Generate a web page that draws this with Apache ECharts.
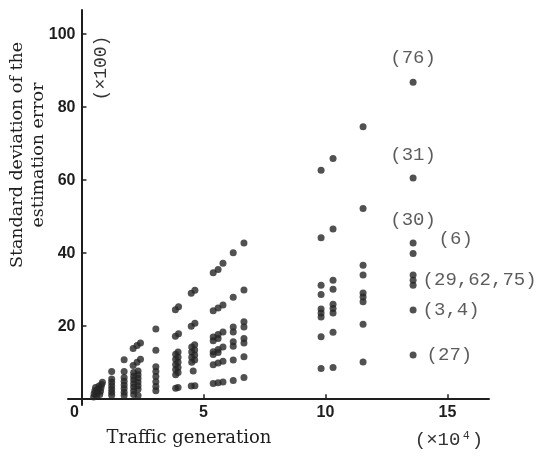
<!DOCTYPE html>
<html>
<head>
<meta charset="utf-8">
<script src="https://cdn.jsdelivr.net/npm/echarts@6/dist/echarts.min.js"></script>
<style>
  html, body { margin: 0; padding: 0; background: #fff; }
  #chart { width: 543px; height: 456px; }
</style>
</head>
<body>
<div id="chart"></div>
<script>
// Traffic generation (x 10^4) vs standard deviation of the estimation error (x 100)
const xTicks = [5, 10, 15];
const xTickLabels = [0, 5, 10, 15];
const yTicks = [20, 40, 60, 80, 100];

// low-traffic groups, [traffic, deviation]
const g0 = [[0.50,0.6],[0.52,1.5],[0.55,2.3],[0.58,3.2],[0.62,0.9],[0.65,1.8],[0.68,2.7],[0.72,3.6],[0.75,1.3],[0.78,2.2],[0.80,3.1],[0.83,4.0],[0.86,4.6]];
const g1 = [[1.24,7.6],[1.24,5.5],[1.24,4.6],[1.24,3.7],[1.24,2.8],[1.24,1.9],[1.24,1.1]];
const g2 = [[1.75,10.8],[1.75,7.6],[1.75,5.9],[1.75,4.9],[1.75,3.9],[1.75,2.9],[1.75,1.9],[1.75,1.0]];
const g3 = [[2.12,13.9],[2.28,14.7],[2.42,15.4],[2.12,9.2],[2.28,10.1],[2.42,10.9],
            [2.14,7.3],[2.14,6.3],[2.14,5.3],[2.14,4.3],[2.14,3.3],[2.14,2.3],[2.14,1.3],
            [2.32,7.7],[2.32,6.7],[2.32,5.7],[2.32,4.7],[2.32,3.7],[2.32,2.7],[2.32,1.0]];
const g4 = [[3.05,19.2],[3.05,13.4],[3.05,8.9],[3.05,7.6],[3.05,6.2],[3.05,4.8],[3.05,3.5],[3.05,2.3]];
const g5 = [[3.85,24.5],[3.98,25.3],[3.85,17.2],[3.98,17.9],
            [3.86,12.3],[3.86,10.9],[3.86,9.5],[3.86,8.1],[3.86,6.7],
            [3.96,12.9],[3.96,11.5],[3.96,10.1],[3.96,8.7],[3.96,7.3],[3.86,3.0],[3.96,3.2]];
const g6 = [[4.50,29.0],[4.65,29.8],[4.50,20.0],[4.65,20.8],
            [4.52,14.3],[4.52,12.9],[4.52,11.5],[4.52,10.1],
            [4.64,14.9],[4.64,13.5],[4.64,12.1],[4.64,10.7],[4.58,7.7],[4.50,3.6],[4.65,3.7]];
const g7 = [[5.4,34.6],[5.6,35.5],[5.8,37.2],[5.4,24.2],[5.6,25.0],[5.8,25.8],
            [5.4,17.0],[5.6,17.7],[5.8,18.4],[5.4,16.0],[5.6,16.6],
            [5.4,13.0],[5.6,13.6],[5.8,14.3],[5.4,12.2],[5.6,12.8],
            [5.4,9.4],[5.6,9.9],[5.8,10.4],[5.4,4.3],[5.6,4.5],[5.8,4.7]];
const g8 = [[6.22,40.1],[6.22,27.9],[6.22,19.8],[6.22,18.4],[6.22,15.7],[6.22,14.5],[6.22,10.7],[6.22,5.1]];
const g9 = [[6.66,42.8],[6.66,29.9],[6.66,21.2],[6.66,19.8],[6.66,16.6],[6.66,15.4],[6.66,11.6],[6.66,5.9]];

// high-traffic columns
const g10x = 9.82;  const g10 = [62.7,44.2,31.2,28.7,24.7,23.6,22.5,17.1,8.4];
const g11x = 10.31; const g11 = [65.9,46.6,32.6,30.1,26.0,24.8,23.6,18.3,8.7];
const g12x = 11.54; const g12 = [74.6,52.2,36.7,34.0,29.1,28.0,26.7,20.5,10.2];

// rightmost column with route tags
const g13x = 13.59;
const g13 = [86.8,60.6,42.8,39.9,34.0,32.6,31.2,24.4,12.1];
const g13tags = ['(76)','(31)','(30)','(6)','','(29,62,75)','','(3,4)','(27)'];

const INK = '#1e1e1e';
const DOT = '#262626';
const TAG_FONT = '"Liberation Mono", monospace';
const TICK_FONT = '"Liberation Sans Narrow", "Liberation Sans", sans-serif';
const TITLE_FONT = '"DejaVu Serif", "Liberation Serif", serif';

// axis ranges; the axes cross at the origin, leaving a short overhang
const X_MIN = -0.55, X_MAX = 16.7;
const Y_MIN = -1.6, Y_MAX = 106.6;
const GRID = { left: 68, right: 54, top: 10, bottom: 51 };
const plotW = 543 - GRID.left - GRID.right;
const plotH = 456 - GRID.top - GRID.bottom;
const yAxisShift = -(0 - X_MIN) / (X_MAX - X_MIN) * plotW;
const xAxisShift = -(0 - Y_MIN) / (Y_MAX - Y_MIN) * plotH;

// where each tag sits relative to its point
const tagPlacement = {
  '(76)':       { position: 'top', distance: 11 },
  '(31)':       { position: 'top', distance: 10 },
  '(30)':       { position: 'top', distance: 10 },
  '(6)':        { position: 'right', distance: 22, offset: [0, -15] },
  '(29,62,75)': { position: 'right', distance: 6 },
  '(3,4)':      { position: 'right', distance: 6 },
  '(27)':       { position: 'right', distance: 10 }
};

const colPts = (x, ys) => ys.map(y => [x, y]);
const plain = [].concat(g0, g1, g2, g3, g4, g5, g6, g7, g8, g9,
  colPts(g10x, g10), colPts(g11x, g11), colPts(g12x, g12));

const tagged = g13.map((y, i) => {
  const t = g13tags[i];
  const item = { value: [g13x, y] };
  if (t) {
    item.label = Object.assign({ show: true, formatter: t }, tagPlacement[t]);
  }
  return item;
});

const chart = echarts.init(document.getElementById('chart'), null, { renderer: 'canvas' });

const tickLabel = { color: INK, fontFamily: TICK_FONT, fontSize: 16, fontWeight: 'bold' };

chart.setOption({
  animation: false,
  backgroundColor: '#fff',
  grid: Object.assign({ containLabel: false, outerBoundsMode: 'none' }, GRID),
  xAxis: {
    type: 'value', min: X_MIN, max: X_MAX, offset: xAxisShift,
    splitLine: { show: false },
    axisLine: { onZero: false, lineStyle: { color: INK, width: 2 } },
    axisTick: { show: true, inside: true, length: 5, customValues: xTicks, lineStyle: { color: INK, width: 1.5 } },
    axisLabel: Object.assign({
      customValues: xTickLabels, margin: 5,
      formatter: v => v === 0 ? '{z|0}' : String(v),
      rich: { z: Object.assign({ padding: [0, 14, 0, 0] }, tickLabel) }
    }, tickLabel)
  },
  yAxis: {
    type: 'value', min: Y_MIN, max: Y_MAX, offset: yAxisShift,
    splitLine: { show: false },
    axisLine: { onZero: false, lineStyle: { color: INK, width: 2 } },
    axisTick: { show: true, inside: true, length: 5, customValues: yTicks, lineStyle: { color: INK, width: 1.5 } },
    axisLabel: Object.assign({ customValues: yTicks, margin: 6 }, tickLabel)
  },
  series: [
    {
      type: 'scatter', data: plain, symbol: 'circle', symbolSize: 7,
      itemStyle: { color: DOT }
    },
    {
      type: 'scatter', data: tagged, symbol: 'circle', symbolSize: 7,
      itemStyle: { color: DOT },
      label: { color: '#333', fontFamily: TAG_FONT, fontSize: 19 }
    }
  ],
  graphic: [
    {
      type: 'text', x: 28, y: 155, rotation: Math.PI / 2,
      style: {
        text: 'Standard deviation of the\nestimation error',
        font: '17.5px ' + TITLE_FONT, fill: INK,
        textAlign: 'center', textVerticalAlign: 'middle', lineHeight: 21
      }
    },
    {
      type: 'text', x: 101, y: 68, rotation: Math.PI / 2,
      style: {
        text: '(×100)', font: '18px ' + TAG_FONT, fill: '#333',
        textAlign: 'center', textVerticalAlign: 'middle'
      }
    },
    {
      type: 'text', x: 189, y: 438,
      style: {
        text: 'Traffic generation', font: '18px ' + TITLE_FONT, fill: INK,
        textAlign: 'center', textVerticalAlign: 'middle'
      }
    },
    {
      type: 'text', x: 449, y: 440,
      style: {
        text: '(×10⁴)', font: '19px ' + TAG_FONT, fill: '#333',
        textAlign: 'center', textVerticalAlign: 'middle'
      }
    }
  ]
});
</script>
</body>
</html>
